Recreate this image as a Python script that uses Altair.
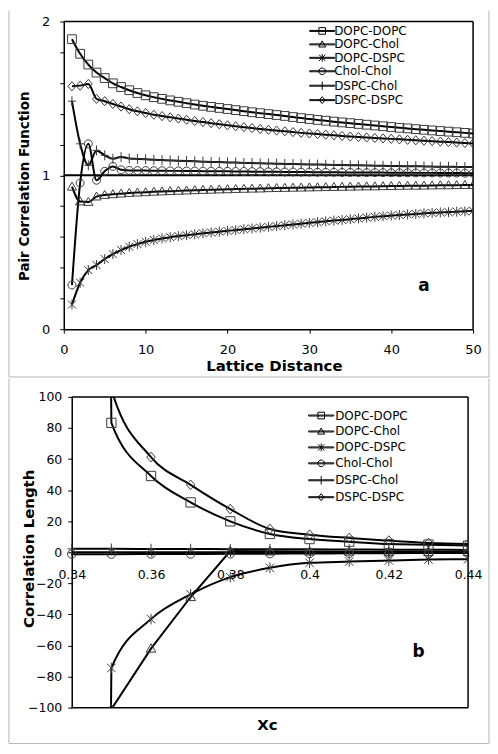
import altair as alt
import pandas as pd

FONT = "DejaVu Sans"
SERIES = ["DOPC-DOPC", "DOPC-Chol", "DOPC-DSPC", "Chol-Chol", "DSPC-Chol", "DSPC-DSPC"]

# ---------------- panel a : pair correlation function ----------------
lattice_distance = list(range(1, 51))
g_dopc_dopc = [1.885, 1.790, 1.720, 1.668, 1.632, 1.598, 1.574, 1.553, 1.535, 1.520,
               1.508, 1.497, 1.487, 1.478, 1.469, 1.460, 1.452, 1.445, 1.438, 1.431,
               1.424, 1.417, 1.410, 1.404, 1.398, 1.392, 1.386, 1.379, 1.372, 1.366,
               1.360, 1.355, 1.349, 1.344, 1.339, 1.334, 1.329, 1.324, 1.319, 1.314,
               1.309, 1.305, 1.300, 1.296, 1.292, 1.288, 1.284, 1.280, 1.276, 1.272]
g_dopc_chol = [0.926, 0.830, 0.827, 0.862, 0.872, 0.877, 0.881, 0.885, 0.888, 0.890,
               0.893, 0.895, 0.897, 0.899, 0.901, 0.903, 0.905, 0.906, 0.908, 0.909,
               0.911, 0.912, 0.913, 0.914, 0.916, 0.917, 0.918, 0.919, 0.920, 0.921,
               0.922, 0.923, 0.924, 0.925, 0.926, 0.927, 0.928, 0.928, 0.929, 0.930,
               0.931, 0.932, 0.932, 0.933, 0.934, 0.935, 0.935, 0.936, 0.937, 0.937]
g_dopc_dspc = [0.160, 0.302, 0.384, 0.417, 0.456, 0.488, 0.514, 0.536, 0.553, 0.568,
               0.580, 0.590, 0.598, 0.605, 0.611, 0.617, 0.623, 0.629, 0.634, 0.639,
               0.644, 0.650, 0.655, 0.660, 0.665, 0.670, 0.676, 0.681, 0.686, 0.691,
               0.696, 0.701, 0.706, 0.710, 0.715, 0.720, 0.725, 0.730, 0.734, 0.739,
               0.742, 0.746, 0.749, 0.753, 0.756, 0.759, 0.761, 0.764, 0.766, 0.769]
g_chol_chol = [0.287, 0.950, 1.205, 0.968, 1.026, 1.058, 1.036, 1.032, 1.031, 1.031,
               1.030, 1.030, 1.029, 1.029, 1.028, 1.028, 1.027, 1.027, 1.026, 1.026,
               1.025, 1.025, 1.024, 1.024, 1.023, 1.023, 1.022, 1.022, 1.021, 1.021,
               1.020, 1.020, 1.020, 1.019, 1.019, 1.019, 1.018, 1.018, 1.018, 1.017,
               1.017, 1.017, 1.016, 1.016, 1.016, 1.015, 1.015, 1.015, 1.014, 1.014]
g_dspc_chol = [1.482, 1.205, 1.065, 1.162, 1.130, 1.108, 1.119, 1.110, 1.107, 1.104,
               1.101, 1.099, 1.097, 1.095, 1.093, 1.091, 1.089, 1.087, 1.086, 1.084,
               1.083, 1.081, 1.080, 1.078, 1.077, 1.076, 1.074, 1.073, 1.072, 1.071,
               1.070, 1.069, 1.068, 1.067, 1.066, 1.065, 1.064, 1.063, 1.062, 1.061,
               1.060, 1.059, 1.059, 1.058, 1.057, 1.056, 1.056, 1.055, 1.054, 1.054]
g_dspc_dspc = [1.579, 1.583, 1.594, 1.497, 1.482, 1.464, 1.447, 1.430, 1.416, 1.405,
               1.394, 1.385, 1.377, 1.369, 1.361, 1.353, 1.346, 1.339, 1.332, 1.325,
               1.319, 1.313, 1.307, 1.301, 1.296, 1.291, 1.286, 1.281, 1.276, 1.272,
               1.268, 1.264, 1.260, 1.256, 1.252, 1.249, 1.246, 1.243, 1.240, 1.237,
               1.234, 1.231, 1.228, 1.225, 1.222, 1.219, 1.216, 1.213, 1.210, 1.207]
a_x_ticks = [0, 10, 20, 30, 40, 50]
a_y_ticks = [0, 0.2, 0.4, 0.6, 0.8, 1, 1.2, 1.4, 1.6, 1.8, 2]

# ---------------- panel b : correlation length ----------------
xc = [0.34, 0.35, 0.36, 0.37, 0.38, 0.39, 0.40, 0.41, 0.42, 0.43, 0.44]
xi_dopc_dopc = [3000, 83.3, 49.1, 32.1, 19.9, 11.8, 8.5, 6.8, 5.3, 4.9, 4.3]
xi_dopc_chol = [-3000, -101, -62, -28.8, 0.8, 0.6, 0.5, 0.4, 0.3, 0.3, 0.2]
xi_dopc_dspc = [-3000, -74.5, -43, -27.1, -16, -10, -6.8, -6.0, -5.3, -4.7, -4.5]
xi_chol_chol = [-1.2, -1.2, -1.1, -1.1, -1.0, -0.9, -0.8, -0.7, -0.6, -0.5, -0.4]
xi_dspc_chol = [2.2, 2.2, 2.1, 2.1, 2.0, 2.0, 1.9, 1.8, 1.7, 1.6, 1.5]
xi_dspc_dspc = [3000, 105, 61.3, 43.4, 27.8, 15.0, 11.3, 9.2, 7.5, 6.0, 5.3]
b_x_ticks = [0.34, 0.36, 0.38, 0.40, 0.42, 0.44]
b_y_ticks = [-100, -80, -60, -40, -20, 0, 20, 40, 60, 80, 100]


def long_table(xs, columns):
    rows = []
    for name, vals in zip(SERIES, columns):
        for x, v in zip(xs, vals):
            rows.append({"x": x, "v": v, "series": name})
    return pd.DataFrame(rows)


df_a = long_table(lattice_distance, [g_dopc_dopc, g_dopc_chol, g_dopc_dspc,
                                     g_chol_chol, g_dspc_chol, g_dspc_dspc])
df_b = long_table(xc, [xi_dopc_dopc, xi_dopc_chol, xi_dopc_dspc,
                       xi_chol_chol, xi_dspc_chol, xi_dspc_dspc])

# marker shapes (unit square -1..1)
MARKERS = [
    "M-1.1,-1.1H1.1V1.1H-1.1Z",
    "M0,-1.15L1.15,0.85H-1.15Z",
    "M-1,-1L1,1M-1,1L1,-1M0,-1.25V1.25",
    "M1,0A1,1,0,1,1,-1,0A1,1,0,1,1,1,0Z",
    "M-1,0H1M0,-1.25V1.25",
    "M0,-1.15L1,0L0,1.15L-1,0Z",
]
LEG_LINE = "M-3.6,-0.14H3.6V0.14H-3.6Z"
LEG_MARKERS = [
    "M-0.95,-0.95H0.95V0.95H-0.95Z",
    "M0,-1L1,0.75H-1Z",
    "M-0.9,-0.9L0.9,0.9M-0.9,0.9L0.9,-0.9M0,-1.1V1.1",
    "M0.95,0A0.95,0.95,0,1,1,-0.95,0A0.95,0.95,0,1,1,0.95,0Z",
    "M0,-1.2V1.2",
    "M0,-1L0.8,0L0,1L-0.8,0Z",
]
LEG_PATHS = [LEG_LINE + m for m in LEG_MARKERS]

one = pd.DataFrame({"k": [0]})
FRAME = "#b4b4b4"


def legend_layer(df, lx, ly, label_offset, row_pad):
    return alt.Chart(df).transform_filter("false").mark_point(
        filled=False, color="black", strokeWidth=1, opacity=1).encode(
        shape=alt.Shape("series:N", scale=alt.Scale(domain=SERIES, range=LEG_PATHS),
                        legend=alt.Legend(
                            title=None, orient="none", legendX=lx, legendY=ly, padding=0,
                            labelFont=FONT, labelFontSize=12, labelColor="black",
                            labelOffset=label_offset, rowPadding=row_pad, symbolSize=49,
                            symbolStrokeWidth=1, symbolStrokeColor="black",
                            symbolFillColor="transparent", symbolOpacity=1)))


def marker_layers(df, x, y, size):
    out = []
    for name, path in zip(SERIES, MARKERS):
        out.append(alt.Chart(df).transform_filter(alt.datum.series == name).mark_point(
            shape=path, filled=False, stroke="#3a3a3a", strokeWidth=1, size=size,
            opacity=1, clip=True).encode(x=x, y=y))
    return out


# ---------------- build panel a ----------------
WA, HA = 411, 309
x_a = alt.X("x:Q", scale=alt.Scale(domain=[0, 50], nice=False, zero=False),
            axis=alt.Axis(values=a_x_ticks, format="d", grid=False, labelFlush=False,
                          domainColor="black", domainWidth=1.5, tickColor="black",
                          tickSize=4, labelFontSize=13, labelColor="black", labelPadding=10.5,
                          title="Lattice Distance", titleFontSize=15, titleFontWeight="bold",
                          titleColor="black", titleX=211, titleY=36, titleBaseline="middle"))
y_a = alt.Y("v:Q", scale=alt.Scale(domain=[0, 2], nice=False, zero=False),
            axis=alt.Axis(values=a_y_ticks, grid=False,
                          labelExpr="datum.value % 1 === 0 ? format(datum.value, 'd') : ''",
                          domainColor="black", domainWidth=1.5, tickColor="black",
                          tickSize=4, labelFontSize=13, labelColor="black", labelPadding=10,
                          title="Pair Correlation  Function", titleFontSize=13.5,
                          titleFontWeight="bold", titleColor="black", titleX=-39,
                          titleY=165, titleBaseline="middle"))

lines_a = alt.Chart(df_a).mark_line(color="black", strokeWidth=2, interpolate="monotone",
                                    clip=True).encode(x=x_a, y=y_a, detail="series:N")
ref_a = alt.Chart(pd.DataFrame({"x": [0], "x2": [50], "v": [1]})).mark_rule(
    color="black", strokeWidth=2).encode(x=x_a, x2="x2:Q", y=y_a)
box_a = alt.Chart(pd.DataFrame({"x": [0, 50], "x2": [50, 50], "v": [2, 0], "v2": [2, 2]})).mark_rule(
    color="black", strokeWidth=1.5).encode(x=x_a, x2="x2:Q", y=y_a, y2="v2:Q")
label_a = alt.Chart(pd.DataFrame({"x": [44], "v": [0.28], "t": ["a"]})).mark_text(
    font=FONT, fontSize=17, fontWeight="bold", color="black").encode(x=x_a, y=y_a, text="t:N")
fa_l = alt.Chart(one).mark_rule(color=FRAME, strokeWidth=1).encode(
    x=alt.value(-55), y=alt.value(-11), y2=alt.value(357))
fa_r = alt.Chart(one).mark_rule(color=FRAME, strokeWidth=1).encode(
    x=alt.value(427), y=alt.value(-11), y2=alt.value(357))
fa_b = alt.Chart(one).mark_rule(color=FRAME, strokeWidth=1).encode(
    x=alt.value(-55), x2=alt.value(427), y=alt.value(357))

panel_a = alt.layer(fa_l, fa_r, fa_b, box_a, ref_a, lines_a,
                    *marker_layers(df_a, x_a, y_a, 64),
                    label_a, legend_layer(df_a, 253.5, 3.5, 6, 1.5)).properties(
    width=WA, height=HA)

# ---------------- build panel b ----------------
WB, HB = 406, 312
x_b = alt.X("x:Q", scale=alt.Scale(domain=[0.33799, 0.44], nice=False, zero=False),
            axis=alt.Axis(values=b_x_ticks, format="~g", grid=False, labelFlush=False,
                          domain=False, offset=-156, tickColor="black", tickSize=4,
                          labelFontSize=12.5, labelColor="black", labelPadding=12,
                          title="Xc", titleFontSize=15, titleFontWeight="bold",
                          titleColor="black", titleX=204, titleY=173, titleBaseline="middle"))
y_b = alt.Y("v:Q", scale=alt.Scale(domain=[-100, 100], nice=False, zero=False),
            axis=alt.Axis(values=b_y_ticks, format="d", grid=False, offset=-8,
                          domainColor="black", domainWidth=1.5, tickColor="black",
                          tickSize=4, labelFontSize=12.5, labelColor="black", labelPadding=6,
                          title="Correlation Length", titleFontSize=15, titleFontWeight="bold",
                          titleColor="black", titleX=-43.3, titleY=152, titleBaseline="middle"))

lines_b = alt.Chart(df_b).transform_filter(alt.datum.series != "DOPC-Chol").mark_line(
    color="black", strokeWidth=2, interpolate="monotone", clip=True).encode(
    x=x_b, y=y_b, detail="series:N")
line_b_dopc_chol = alt.Chart(df_b).transform_filter(alt.datum.series == "DOPC-Chol").mark_line(
    color="black", strokeWidth=2, interpolate="linear", clip=True).encode(x=x_b, y=y_b)
box_b = alt.Chart(pd.DataFrame({"x": [0.34, 0.34, 0.44], "x2": [0.44, 0.44, 0.44],
                                "v": [100, -100, -100], "v2": [100, -100, 100]})).mark_rule(
    color="black", strokeWidth=1.5).encode(x=x_b, x2="x2:Q", y=y_b, y2="v2:Q")
zero_b = alt.Chart(pd.DataFrame({"x": [0.34], "x2": [0.44], "v": [0]})).mark_rule(
    color="black", strokeWidth=2).encode(x=x_b, x2="x2:Q", y=y_b)
label_b = alt.Chart(pd.DataFrame({"x": [0.4275], "v": [-64], "t": ["b"]})).mark_text(
    font=FONT, fontSize=17, fontWeight="bold", color="black").encode(x=x_b, y=y_b, text="t:N")
fb_l = alt.Chart(one).mark_rule(color=FRAME, strokeWidth=1).encode(
    x=alt.value(-55), y=alt.value(-18.5), y2=alt.value(348))
fb_r = alt.Chart(one).mark_rule(color=FRAME, strokeWidth=1).encode(
    x=alt.value(427), y=alt.value(-18.5), y2=alt.value(348))
fb_b = alt.Chart(one).mark_rule(color=FRAME, strokeWidth=1).encode(
    x=alt.value(-55), x2=alt.value(427), y=alt.value(348))

panel_b = alt.layer(fb_l, fb_r, fb_b, zero_b, box_b, lines_b, line_b_dopc_chol,
                    *marker_layers(df_b, x_b, y_b, 72),
                    label_b, legend_layer(df_b, 252.5, 12.7, 8, 4)).properties(
    width=WB, height=HB)

chart = alt.vconcat(panel_a, panel_b, spacing=0).resolve_scale(
    shape="independent").resolve_legend(shape="independent").properties(
    padding=0).configure(font=FONT).configure_view(strokeWidth=0)

chart.save("out.html", embed_options={"renderer": "svg", "actions": False})
